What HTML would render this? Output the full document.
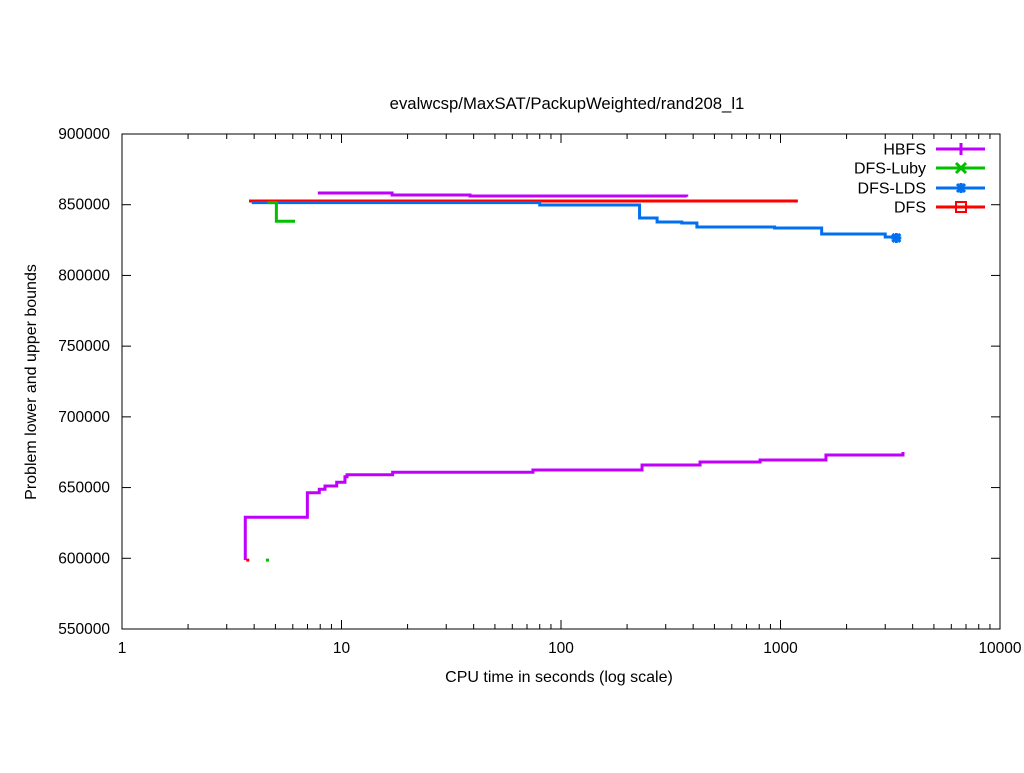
<!DOCTYPE html>
<html><head><meta charset="utf-8"><style>
body{margin:0;background:#fff}
svg text{font-family:"Liberation Sans",Arial,sans-serif;font-size:16px;fill:#000}
svg text.tick{font-size:15.5px}
</style></head><body>
<svg id="chart" width="1024" height="768" xmlns="http://www.w3.org/2000/svg">
<rect width="1024" height="768" fill="#fff"/>
<text x="567" y="109" text-anchor="middle" style="font-size:16.7px">evalwcsp/MaxSAT/PackupWeighted/rand208_l1</text>
<text x="559" y="682" text-anchor="middle">CPU time in seconds (log scale)</text>
<text transform="translate(36,382) rotate(-90)" text-anchor="middle">Problem lower and upper bounds</text>
<g id="axes"></g>
<g id="series"></g>
<g id="legend"></g>
<rect x="122" y="134" width="878" height="495" fill="none" stroke="#000" stroke-width="1"/>
</svg>
<script>
const xTicks=[1,10,100,1000,10000];
const xTickLabels=["1","10","100","1000","10000"];
const yTicks=[550000,600000,650000,700000,750000,800000,850000,900000];
const hbfsLowT=[3.645,3.645,6.99,7.92,8.41,9.51,10.37,10.6,17.1,74.5,234,430,807,1611,3614,3614];
const hbfsLowV=[598700,629000,646370,648770,651110,653730,657690,659100,660800,662390,665930,668050,669490,673020,673020,675150];
const hbfsUpT=[7.8,17,38.5,374,374];
const hbfsUpV=[858300,856900,856200,856200,855600];
const dfsT=[3.79,1200];
const dfsV=[852600,852600];
const lubyT=[4.6,5.05,6.14];
const lubyV=[851500,838300,838300];
const ldsT=[3.9,80,228,274,355,416,940,1540,3000,3370];
const ldsV=[851500,849800,840600,837800,837100,834200,833500,829300,827200,826500];
const NS="http://www.w3.org/2000/svg";
const X=t=>122+219.5*Math.log10(t);
const Y=v=>134+(900000-v)*495/350000;
function mk(tag,attrs,parent){const e=document.createElementNS(NS,tag);for(const k in attrs)e.setAttribute(k,attrs[k]);parent.appendChild(e);return e;}
const axes=document.getElementById('axes');
xTicks.forEach((t,i)=>{
  const x=X(t);
  const tk=mk('line',{x1:x,x2:x,y1:629,y2:620,stroke:'#000'},axes);
  
  
  mk('line',{x1:x,x2:x,y1:134,y2:143,stroke:'#000'},axes);
  if(i<xTicks.length-1){for(let m=2;m<10;m++){const xm=X(t*m);mk('line',{x1:xm,x2:xm,y1:629,y2:624,stroke:'#000'},axes);mk('line',{x1:xm,x2:xm,y1:134,y2:139,stroke:'#000'},axes);}}
  const lb=mk('text',{x:x,y:653,'text-anchor':'middle','class':'tick'},axes);lb.textContent=xTickLabels[i];
  
  
});
yTicks.forEach(v=>{
  const y=Y(v);
  mk('line',{x1:122,x2:131,y1:y,y2:y,stroke:'#000'},axes);
  mk('line',{x1:1000,x2:991,y1:y,y2:y,stroke:'#000'},axes);
  const lb=mk('text',{x:110,y:y+5,'text-anchor':'end','class':'tick'},axes);lb.textContent=String(v);
  
  
});
const ser=document.getElementById('series');
function step(T,V,color,name){
  let pts=[];
  for(let i=0;i<T.length;i++){
    if(i>0)pts.push(X(T[i])+','+Y(V[i-1]));
    pts.push(X(T[i])+','+Y(V[i]));
  }
  const p=mk('polyline',{points:pts.join(' '),fill:'none',stroke:color,'stroke-width':3},ser);
  
  
}
step(dfsT,dfsV,'#ff0000','dfs-line');
step(ldsT,ldsV,'#0070f0','dfs-lds-line');
step(lubyT,lubyV,'#00c000','dfs-luby-line');
step(hbfsUpT,hbfsUpV,'#c000ff','hbfs-upper-line');
step(hbfsLowT,hbfsLowV,'#c000ff','hbfs-lower-line');
mk('rect',{x:X(3.645)+1,y:Y(598700)-1.5,width:3,height:3,fill:'#ff0000'},ser);
mk('rect',{x:X(4.6)-1.5,y:Y(598700)-1.5,width:3,height:3,fill:'#00c000'},ser);
function star(cx,cy,color,parent){
  mk('path',{d:`M${cx-5} ${cy}H${cx+5}M${cx} ${cy-5}V${cy+5}M${cx-4} ${cy-4}L${cx+4} ${cy+4}M${cx-4} ${cy+4}L${cx+4} ${cy-4}`,stroke:color,'stroke-width':3,fill:'none'},parent);
}
star(X(3370),Y(826500),'#0070f0',ser);
const lg=document.getElementById('legend');
const legNames=['HBFS','DFS-Luby','DFS-LDS','DFS'];
const legColors=['#c000ff','#00c000','#0070f0','#ff0000'];
const legY=[149,168,188,207];
legNames.forEach((n,i)=>{
  const g=mk('g',{},lg);
  
  
  const t=mk('text',{x:926,y:legY[i]+5.5,'text-anchor':'end'},g);t.textContent=n;
  mk('line',{x1:936,x2:985,y1:legY[i],y2:legY[i],stroke:legColors[i],'stroke-width':3},g);
  const c=legColors[i],y=legY[i],x=961;
  if(i==0)mk('path',{d:`M${x} ${y-6}V${y+6}`,stroke:c,'stroke-width':3},g);
  if(i==1)mk('path',{d:`M${x-5} ${y-5}L${x+5} ${y+5}M${x-5} ${y+5}L${x+5} ${y-5}`,stroke:c,'stroke-width':3},g);
  if(i==2)star(x,y,c,g);
  if(i==3)mk('rect',{x:x-5,y:y-5,width:10,height:10,fill:'none',stroke:c,'stroke-width':2},g);
});
</script>
</body></html>
